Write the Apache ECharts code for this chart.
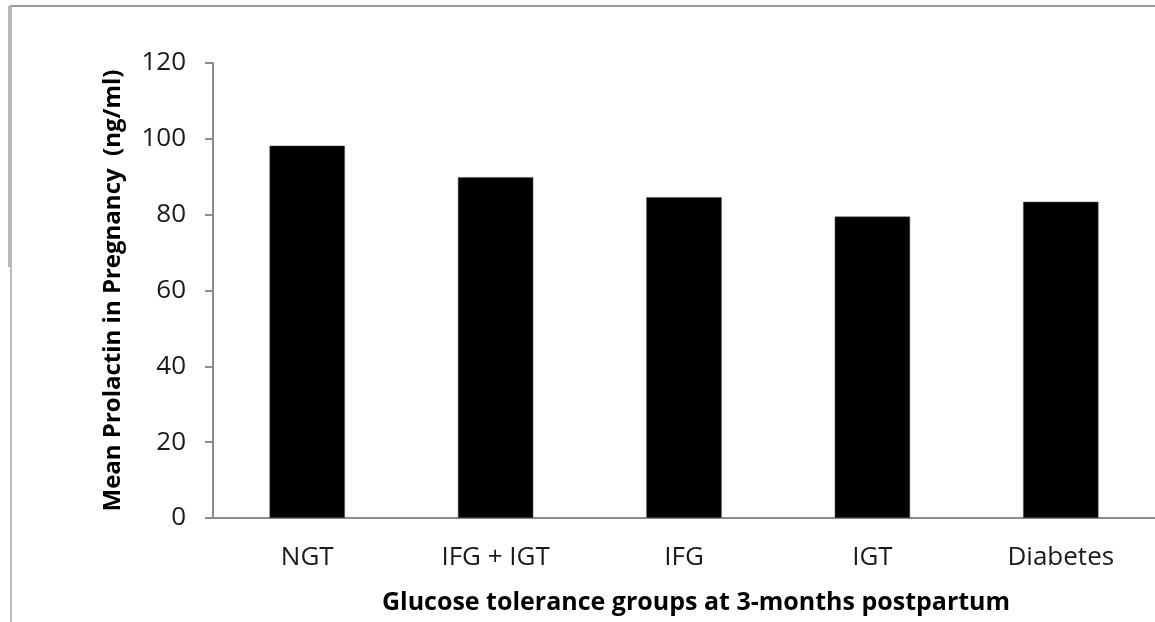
<!DOCTYPE html>
<html>
<head>
<meta charset="utf-8">
<script src="https://cdn.jsdelivr.net/npm/echarts@6/dist/echarts.min.js"></script>
<style>
html,body{margin:0;padding:0;background:#fff;}
#chart{width:1155px;height:622px;}
</style>
</head>
<body>
<div id="chart"></div>
<script>
const categories = ['NGT', 'IFG + IGT', 'IFG', 'IGT', 'Diabetes'];
const prolactinValues = [98.2, 89.9, 84.6, 79.5, 83.4];
const yTicks = { min: 0, max: 120, interval: 20 };
const yTitle = 'Mean Prolactin in Pregnancy  (ng/ml)';
const xTitle = 'Glucose tolerance groups at 3-months postpartum';

const chart = echarts.init(document.getElementById('chart'));
const font = 'Open Sans';
chart.setOption({
  animation: false,
  backgroundColor: '#ffffff',
  graphic: [
    { type: 'line', shape: { x1: 10, y1: 6, x2: 1155, y2: 6 }, style: { stroke: '#9a9a9a', lineWidth: 2 } },
    { type: 'line', shape: { x1: 11, y1: 6, x2: 11, y2: 622 }, style: { stroke: '#a8a8a8', lineWidth: 1.5 } },
    { type: 'line', shape: { x1: 10, y1: 6, x2: 10, y2: 267 }, style: { stroke: '#b8b8b8', lineWidth: 4 } }
  ],
  grid: { left: 213, right: -8, top: 63, bottom: 104, containLabel: false },
  xAxis: {
    type: 'category',
    data: categories,
    axisLine: { show: true, lineStyle: { color: '#8c8c8c', width: 2 } },
    axisTick: { show: false },
    axisLabel: { color: '#1a1a1a', fontFamily: font, fontSize: 26, margin: 27 },
    name: xTitle,
    nameLocation: 'middle',
    nameGap: 72,
    nameTextStyle: { color: '#000', fontFamily: font, fontSize: 25, fontWeight: 'bold', padding: [0, 0, 0, 24] }
  },
  yAxis: {
    type: 'value',
    min: yTicks.min, max: yTicks.max, interval: yTicks.interval,
    splitLine: { show: false },
    axisLine: { show: true, lineStyle: { color: '#8c8c8c', width: 2 } },
    axisTick: { show: true, length: 8, lineStyle: { color: '#8c8c8c', width: 2 } },
    axisLabel: { color: '#1a1a1a', fontFamily: font, fontSize: 26, margin: 27 },
    name: yTitle,
    nameLocation: 'middle',
    nameGap: 88,
    nameRotate: 90,
    nameTextStyle: { color: '#000', fontFamily: font, fontSize: 24, fontWeight: 'bold' }
  },
  series: [{
    type: 'bar',
    data: prolactinValues,
    barWidth: '40%',
    itemStyle: { color: '#000', borderColor: '#555', borderWidth: 0.5 }
  }]
});
</script>
</body>
</html>
